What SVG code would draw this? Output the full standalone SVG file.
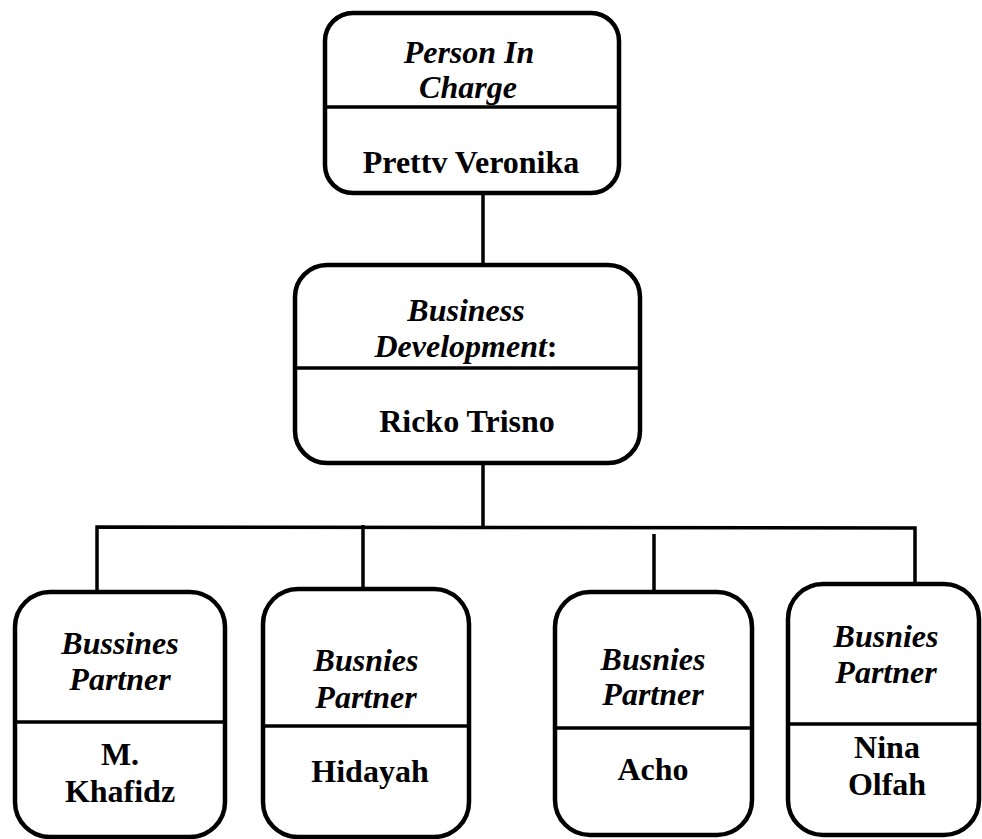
<svg xmlns="http://www.w3.org/2000/svg" width="982" height="839" viewBox="0 0 982 839">
<style>
.box{fill:#fff;stroke:#000;stroke-width:4.5}
.div{stroke:#000;stroke-width:3.5;fill:none}
.con{stroke:#000;stroke-width:3.5;fill:none}
.t{font-family:"Liberation Serif","Times New Roman",Times,serif;font-size:32px;font-weight:bold;text-anchor:middle;fill:#000}
.i{font-style:italic}
</style>
<rect width="982" height="839" fill="#fff"/>
<g id="connectors">
<line class="con" x1="483" y1="193" x2="483" y2="265"/>
<line class="con" x1="483" y1="463" x2="483" y2="528"/>
<polyline class="con" points="97,592 97,527 915,528 915,584"/>
<line class="con" x1="363" y1="525" x2="363" y2="589"/>
<line class="con" x1="654" y1="534" x2="654" y2="592"/>
</g>
<g id="pic">
<rect class="box" x="325" y="13" width="294" height="180" rx="28" ry="28"/>
<line class="div" x1="325" y1="107" x2="619" y2="107"/>
<text class="t i" x="469" y="63">Person In</text>
<text class="t i" x="468" y="98">Charge</text>
<text class="t" x="471" y="173">Prettv Veronika</text>
</g>
<g id="bizdev">
<rect class="box" x="295" y="265" width="345" height="198" rx="32" ry="32"/>
<line class="div" x1="295" y1="368" x2="640" y2="368"/>
<text class="t i" x="466" y="321">Business</text>
<text class="t" x="466" y="357"><tspan font-style="italic">Development</tspan>:</text>
<text class="t" x="467" y="432">Ricko Trisno</text>
</g>
<g id="partner1">
<rect class="box" x="15" y="592" width="210" height="245" rx="35" ry="35"/>
<line class="div" x1="15" y1="722" x2="225" y2="722"/>
<text class="t i" x="120" y="654">Bussines</text>
<text class="t i" x="120" y="690">Partner</text>
<text class="t" x="120" y="765">M.</text>
<text class="t" x="120" y="802">Khafidz</text>
</g>
<g id="partner2">
<rect class="box" x="263" y="589" width="206" height="248" rx="35" ry="35"/>
<line class="div" x1="263" y1="726" x2="469" y2="726"/>
<text class="t i" x="366" y="671">Busnies</text>
<text class="t i" x="366" y="708">Partner</text>
<text class="t" x="370" y="782">Hidayah</text>
</g>
<g id="partner3">
<rect class="box" x="555" y="592" width="197" height="243" rx="35" ry="35"/>
<line class="div" x1="555" y1="728" x2="752" y2="728"/>
<text class="t i" x="653" y="670">Busnies</text>
<text class="t i" x="653" y="705">Partner</text>
<text class="t" x="653" y="780">Acho</text>
</g>
<g id="partner4">
<rect class="box" x="788" y="584" width="191" height="251" rx="35" ry="35"/>
<line class="div" x1="788" y1="724" x2="979" y2="724"/>
<text class="t i" x="886" y="647">Busnies</text>
<text class="t i" x="886" y="683">Partner</text>
<text class="t" x="887" y="758">Nina</text>
<text class="t" x="887" y="795">Olfah</text>
</g>
</svg>
